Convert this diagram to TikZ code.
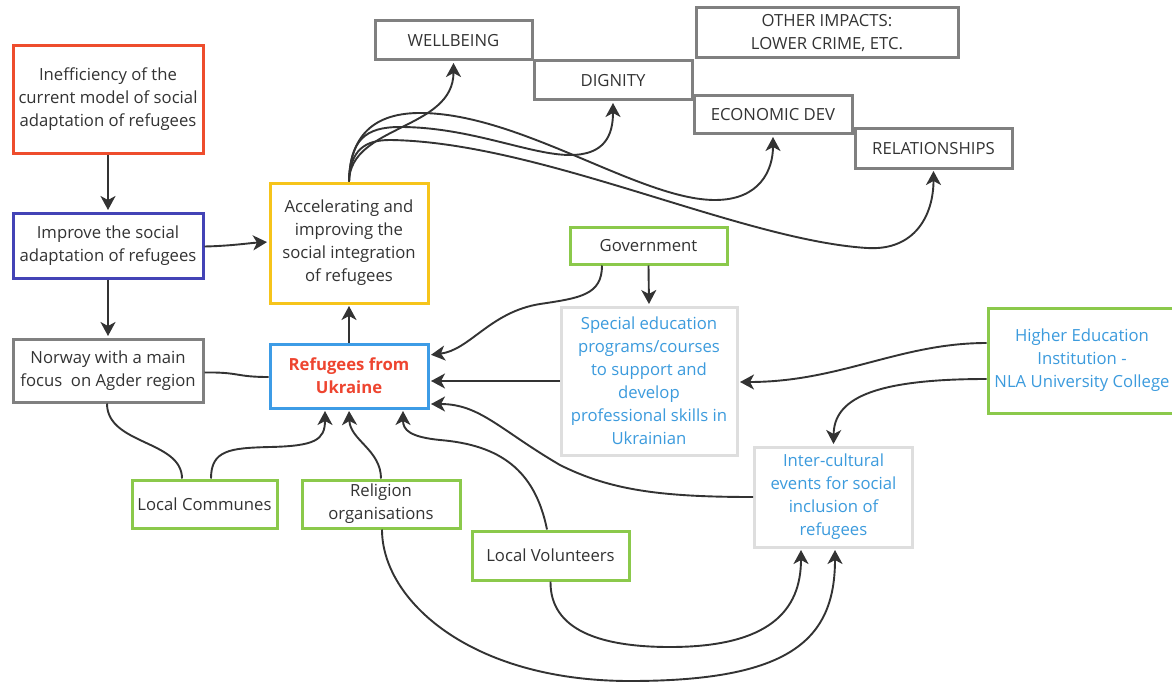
\documentclass[tikz,border=0pt]{standalone}
\usepackage{fontspec}
\setmainfont{Open Sans}
\usetikzlibrary{arrows.meta,calc}
\definecolor{redb}{HTML}{EE4D2D}
\definecolor{blueb}{HTML}{4343B6}
\definecolor{grayb}{HTML}{808080}
\definecolor{yelb}{HTML}{F6C41B}
\definecolor{refb}{HTML}{3D9CE6}
\definecolor{greenb}{HTML}{8BC94B}
\definecolor{lightb}{HTML}{DEDEDE}
\definecolor{txt}{HTML}{333333}
\definecolor{bluet}{HTML}{3C9BDD}
\definecolor{redt}{HTML}{EE4530}
\definecolor{ln}{HTML}{333333}
\begin{document}
\begin{tikzpicture}[x=1pt,y=1pt,
  box/.style={draw, line width=3pt, inner sep=0pt, align=center,
    font=\fontsize{16.7}{23}\selectfont, text=txt, fill=white},
  conn/.style={draw=ln, line width=1.9pt},
  arr/.style={conn, shorten >=1.5pt, -{Stealth[length=14pt,width=15pt,inset=4pt]}},
]
\useasboundingbox (0,0) rectangle (1172,-682);
\fill[white] (0,0) rectangle (1172,-682);

% nodes
\node[box, draw=redb, minimum width=190pt, minimum height=107pt] (ineff) at (108,-99.5)
  {Inefficiency of the\\current model of social\\adaptation of refugees};
\node[box, draw=blueb, minimum width=190pt, minimum height=65pt] (improve) at (108,-245.5)
  {Improve the social\\adaptation of refugees};
\node[box, draw=grayb, minimum width=190pt, minimum height=63pt] (norway) at (108,-370.5)
  {Norway with a main\\focus\ \ on Agder region};
\node[box, draw=yelb, minimum width=158pt, minimum height=120pt] (accel) at (349,-243)
  {Accelerating and\\improving the\\social integration\\of refugees};
\node[box, draw=refb, minimum width=158pt, minimum height=64pt, text=redt,
  font=\fontsize{16.7}{23}\selectfont\bfseries] (refugees) at (349,-376)
  {Refugees from\\Ukraine};
\node[box, draw=grayb, minimum width=157pt, minimum height=39pt] (wellbeing) at (453.5,-40.5) {WELLBEING};
\node[box, draw=grayb, minimum width=158pt, minimum height=39pt] (dignity) at (613,-80.5) {DIGNITY};
\node[box, draw=grayb, minimum width=262pt, minimum height=50pt] (other) at (827,-33)
  {OTHER IMPACTS:\\LOWER CRIME, ETC.};
\node[box, draw=grayb, minimum width=158pt, minimum height=38pt] (econ) at (773,-115) {ECONOMIC DEV};
\node[box, draw=grayb, minimum width=157pt, minimum height=39pt] (relat) at (933.5,-148.5) {RELATIONSHIPS};
\node[box, draw=greenb, minimum width=157pt, minimum height=37pt] (gov) at (648.5,-245.5) {Government};
\node[box, draw=lightb, minimum width=176pt, minimum height=148pt, text=bluet] (special) at (649,-381)
  {Special education\\programs/courses\\to support and\\develop\\professional skills in\\Ukrainian};
\node[box, draw=greenb, minimum width=188pt, minimum height=105pt, text=bluet] (higher) at (1082,-360.5)
  {Higher Education\\Institution -\\NLA University College};
\node[box, draw=lightb, minimum width=158pt, minimum height=100pt, text=bluet] (inter) at (833.5,-497)
  {Inter-cultural\\events for social\\inclusion of\\refugees};
\node[box, draw=greenb, minimum width=145pt, minimum height=48pt] (communes) at (204.5,-504) {Local Communes};
\node[box, draw=greenb, minimum width=158pt, minimum height=48pt] (religion) at (381,-504)
  {Religion\\organisations};
\node[box, draw=greenb, minimum width=157pt, minimum height=49pt] (volunteers) at (550.5,-555.5) {Local Volunteers};

% connectors, left column
\draw[arr] (ineff.south) -- (improve.north);
\draw[arr] (improve.south) -- (norway.north);
\draw[arr] ([yshift=-1pt]improve.east) .. controls (230,-246) and (250,-243) .. ([yshift=1pt]accel.west);
\draw[arr] (refugees.north) -- (accel.south);
\draw[conn] ([yshift=-2pt]norway.east) .. controls (240,-372) and (235,-377) .. ([yshift=-1pt]refugees.west);

% accel to impacts
\draw[arr] (accel.north) .. controls (350,-125) and (453.5,-130) .. (wellbeing.south);
\draw[arr] (accel.north) .. controls (350,-140) and (365,-127) .. (400,-127)
  .. controls (470,-127) and (530,-155) .. (570,-155)
  .. controls (605,-155) and (613,-135) .. (dignity.south);
\draw[arr] (accel.north) .. controls (350,-130) and (380,-113) .. (420,-113)
  .. controls (520,-113) and (640,-200) .. (715,-200)
  .. controls (760,-200) and (773,-170) .. (econ.south);
\draw[arr] (accel.north) .. controls (350,-150) and (365,-140) .. (390,-140)
  .. controls (540,-142) and (740,-240) .. (867,-248)
  .. controls (915,-251) and (933.5,-215) .. (relat.south);

% government / special / higher
\draw[arr] ([xshift=-46.5pt]gov.south) .. controls (602,-295) and (580,-298) .. (540,-304)
  .. controls (490,-312) and (470,-350) .. ([yshift=21pt]refugees.east);
\draw[arr] (gov.south) -- (special.north);
\draw[arr] (special.west) -- (special.west -| refugees.east);
\draw[arr] ([yshift=17.5pt]higher.west) .. controls (900,-343) and (840,-382) .. ([yshift=-1pt]special.east);
\draw[arr] ([yshift=-18.5pt]higher.west) .. controls (870,-379) and (834,-400) .. (inter.north);
\draw[arr] (inter.west) .. controls (660,-497) and (610,-490) .. (560,-465)
  .. controls (500,-430) and (480,-404) .. ([yshift=-28pt]refugees.east);

% bottom actors
\draw[conn] ([xshift=-1pt]norway.south) .. controls (107,-445) and (182,-440) .. ([xshift=-22.5pt]communes.north);
\draw[arr] ([xshift=6.5pt]communes.north) .. controls (211,-450) and (230,-448) .. (270,-447)
  .. controls (315,-446) and (325,-440) .. ([xshift=-24pt]refugees.south);
\draw[arr] (religion.north) .. controls (381,-450) and (350,-440) .. (refugees.south);
\draw[arr] ([xshift=-3.5pt]volunteers.north) .. controls (535,-470) and (500,-445) .. (440,-440)
  .. controls (410,-437) and (403,-430) .. ([xshift=54pt]refugees.south);
\draw[arr] ([xshift=1pt]religion.south) .. controls (382,-600) and (470,-681) .. (630,-681)
  .. controls (790,-681) and (835,-640) .. ([xshift=1.5pt]inter.south);
\draw[arr] (volunteers.south) .. controls (550,-630) and (600,-647) .. (670,-647)
  .. controls (770,-647) and (801,-610) .. ([xshift=-32.5pt]inter.south);
\end{tikzpicture}
\end{document}
